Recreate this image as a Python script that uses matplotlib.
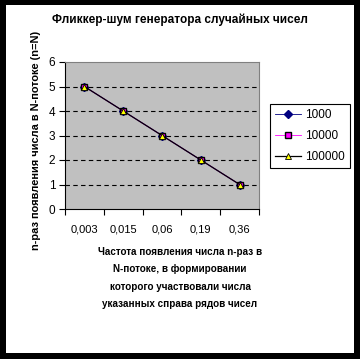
import matplotlib
matplotlib.use("Agg")
import matplotlib.pyplot as plt
from matplotlib.patches import Rectangle

categories = ["0,003", "0,015", "0,06", "0,19", "0,36"]
series_names = ["1000", "10000", "100000"]
values_1000 = [5, 4, 3, 2, 1]
values_10000 = [5, 4, 3, 2, 1]
values_100000 = [5, 4, 3, 2, 1]

title = "Фликкер-шум генератора случайных чисел"
ylabel = "n-раз появления числа в N-потоке (n=N)"
xlabel = ("Частота появления числа n-раз в\nN-потоке, в формировании\n"
          "которого участвовали числа\nуказанных справа рядов чисел")

plt.rcParams["font.family"] = ["Liberation Sans", "DejaVu Sans"]

W, H = 360, 359
fig = plt.figure(figsize=(W / 100, H / 100), dpi=100)

# black frame round the chart
fig.patches.append(Rectangle((0, 0), 1, 1, transform=fig.transFigure,
                             facecolor="black", edgecolor="none", zorder=-10))
fig.patches.append(Rectangle((6 / W, 6 / H), 348 / W, 348 / H,
                             transform=fig.transFigure,
                             facecolor="white", edgecolor="none", zorder=-9))

ax = fig.add_axes([65 / W, (H - 209) / H, 194 / W, 147 / H])
ax.set_facecolor("#c0c0c0")

x = list(range(len(categories)))
ax.plot(x, values_1000, color="#000080", lw=0.6, marker="D", ms=4,
        markerfacecolor="#000080", markeredgecolor="#000080", label=series_names[0])
ax.plot(x, values_10000, color="#ff00ff", lw=0.6, marker="s", ms=5,
        markerfacecolor="#ff00ff", markeredgecolor="black", markeredgewidth=1.0,
        label=series_names[1])
ax.plot(x, values_100000, color="black", lw=0.9, marker="^", ms=4,
        markerfacecolor="yellow", markeredgecolor="black", markeredgewidth=0.6,
        label=series_names[2])

ax.set_xlim(-0.5, len(categories) - 0.5)
ax.set_ylim(0, 6)
ax.set_yticks(range(7))
ax.set_xticks(x)
ax.set_xticklabels(categories)
ax.set_xticks([i - 0.5 for i in range(len(categories) + 1)], minor=True)
ax.tick_params(axis="x", which="major", length=0, pad=11, labelsize=8)
ax.tick_params(axis="x", which="minor", length=4, width=0.8, color="black")
ax.tick_params(axis="y", length=4, width=0.8, labelsize=8.5, pad=3)

for y in range(1, 6):
    ax.axhline(y, color="black", lw=0.8, ls=(0, (4, 3)), zorder=1)

ax.spines["left"].set_color("black")
ax.spines["bottom"].set_color("black")
ax.spines["top"].set_color("#808080")
ax.spines["right"].set_color("#808080")

fig.text(180 / W, 1 - 20 / H, title, ha="center", va="center",
         fontsize=8.5, fontweight="bold")
fig.text(36 / W, 1 - 140 / H, ylabel, ha="center", va="center",
         rotation=90, fontsize=7.9, fontweight="bold")
fig.text(180 / W, 1 - 278 / H, xlabel, ha="center", va="center",
         fontsize=7.1, fontweight="bold", linespacing=1.9)

leg = ax.legend(loc="upper left", bbox_to_anchor=(270 / W, 1 - 104 / H),
                bbox_transform=fig.transFigure, frameon=True, fancybox=False,
                edgecolor="black", framealpha=1, fontsize=8.5,
                handlelength=2.2, borderpad=0.45, labelspacing=0.75,
                handletextpad=0.3, borderaxespad=0)
leg.get_frame().set_linewidth(0.8)

fig.savefig("out.png", dpi=100)
